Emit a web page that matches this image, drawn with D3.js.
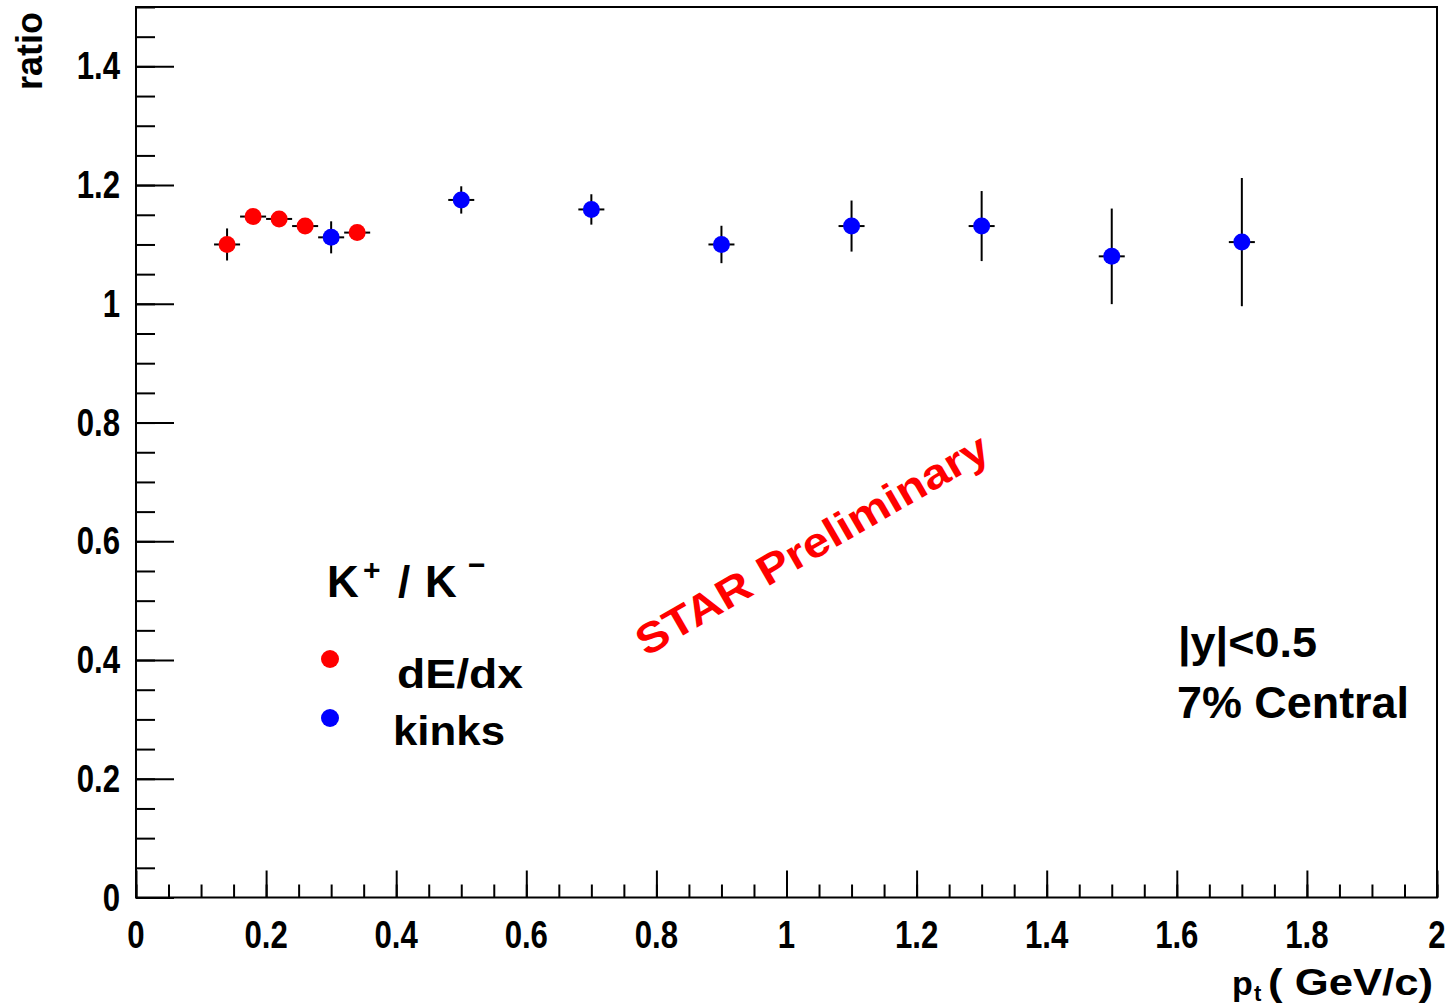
<!DOCTYPE html>
<html>
<head>
<meta charset="utf-8">
<script src="https://cdn.jsdelivr.net/npm/d3@7"></script>
<style>
  html, body { margin: 0; padding: 0; background: #fff; }
  svg { display: block; }
  text { font-family: "Liberation Sans", Arial, Helvetica, sans-serif; font-weight: bold; fill: #000; }
</style>
</head>
<body>
<svg id="chart" width="1452" height="1006"></svg>
<script>
// K+/K- ratio vs transverse momentum, two identification methods
const dedxPt   = [0.14, 0.18, 0.22, 0.26, 0.34];
const dedxRatio = [1.100, 1.147, 1.143, 1.131, 1.120];
const dedxErr   = [0.027, 0.010, 0.010, 0.010, 0.010];

const kinkPt    = [0.30, 0.50, 0.70, 0.90, 1.10, 1.30, 1.50, 1.70];
const kinkRatio = [1.112, 1.175, 1.159, 1.100, 1.131, 1.131, 1.080, 1.104];
const kinkErr   = [0.027, 0.023, 0.0256, 0.0315, 0.043, 0.059, 0.0805, 0.108];

const ptHalfWidth = 0.02;

const xTickValues = [0, 0.2, 0.4, 0.6, 0.8, 1, 1.2, 1.4, 1.6, 1.8, 2];
const yTickValues = [0, 0.2, 0.4, 0.6, 0.8, 1, 1.2, 1.4];

const svg = d3.select("#chart");
const frameLeft = 136, frameRight = 1437, frameTop = 7, frameBottom = 897.5;

const x = d3.scaleLinear().domain([0, 2]).range([frameLeft, frameRight]);
const y = d3.scaleLinear().domain([0, 1.5]).range([frameBottom, frameTop]);

const fmt = d => (Math.abs(d) < 1e-9 ? "0" : String(+d.toFixed(2)));

// minor ticks every 0.05
const xMinor = d3.range(0, 2.0001, 0.05).map(v => +v.toFixed(2));
const yMinor = d3.range(0, 1.5001, 0.05).map(v => +v.toFixed(2));

function styleTicks(g) {
  g.select(".domain").remove();
  g.selectAll("line").attr("stroke", "#000").attr("stroke-width", 2);
}

// minor ticks (inside the frame)
svg.append("g")
  .attr("transform", `translate(0,${frameBottom})`)
  .call(d3.axisTop(x).tickValues(xMinor).tickSize(13).tickFormat(""))
  .call(styleTicks);

svg.append("g")
  .attr("transform", `translate(${frameLeft},0)`)
  .call(d3.axisRight(y).tickValues(yMinor).tickSize(19).tickFormat(""))
  .call(styleTicks);

// major ticks
svg.append("g")
  .attr("transform", `translate(0,${frameBottom})`)
  .call(d3.axisTop(x).tickValues(xTickValues).tickSize(27).tickFormat(""))
  .call(styleTicks);

svg.append("g")
  .attr("transform", `translate(${frameLeft},0)`)
  .call(d3.axisRight(y).tickValues(yTickValues).tickSize(38).tickFormat(""))
  .call(styleTicks);

// tick labels
const labelSize = 38;
const xLabels = svg.append("g").selectAll("text")
  .data(xTickValues).join("text")
  .attr("x", d => x(d)).attr("y", 948)
  .attr("text-anchor", "middle")
  .attr("font-size", labelSize)
  .text(fmt);

const yLabels = svg.append("g").selectAll("text")
  .data(yTickValues).join("text")
  .attr("x", 120).attr("y", d => y(d) + 13)
  .attr("text-anchor", "end")
  .attr("font-size", labelSize)
  .text(fmt);

// narrow the tick label glyphs
[xLabels, yLabels].forEach(sel => sel.each(function () {
  const w = this.getComputedTextLength();
  d3.select(this).attr("textLength", w * 0.82).attr("lengthAdjust", "spacingAndGlyphs");
}));

// frame
svg.append("rect")
  .attr("x", frameLeft).attr("y", frameTop)
  .attr("width", frameRight - frameLeft).attr("height", frameBottom - frameTop)
  .attr("fill", "none").attr("stroke", "#000").attr("stroke-width", 2);

// axis titles
svg.append("text")
  .attr("transform", `translate(42,12) rotate(-90)`)
  .attr("text-anchor", "end")
  .attr("font-size", 36)
  .text("ratio");

const xt = svg.append("text").attr("font-size", 36);
xt.append("tspan").attr("x", 1232).attr("y", 995).attr("font-size", 34).text("p");
xt.append("tspan").attr("x", 1254).attr("y", 1001).attr("font-size", 22).text("t");
xt.append("tspan").attr("x", 1268).attr("y", 995)
  .attr("textLength", 165).attr("lengthAdjust", "spacingAndGlyphs").text("( GeV/c)");

// data series
function drawSeries(pts, vals, errs, color) {
  const data = pts.map((p, i) => ({ p, v: vals[i], e: errs[i] }));
  const g = svg.append("g");
  g.selectAll("line.v").data(data).join("line")
    .attr("class", "v")
    .attr("x1", d => x(d.p)).attr("x2", d => x(d.p))
    .attr("y1", d => y(d.v - d.e)).attr("y2", d => y(d.v + d.e))
    .attr("stroke", "#000").attr("stroke-width", 2);
  g.selectAll("line.h").data(data).join("line")
    .attr("class", "h")
    .attr("x1", d => x(d.p - ptHalfWidth)).attr("x2", d => x(d.p + ptHalfWidth))
    .attr("y1", d => y(d.v)).attr("y2", d => y(d.v))
    .attr("stroke", "#000").attr("stroke-width", 2);
  g.selectAll("circle").data(data).join("circle")
    .attr("cx", d => x(d.p)).attr("cy", d => y(d.v))
    .attr("r", 8.5).attr("fill", color);
}
drawSeries(dedxPt, dedxRatio, dedxErr, "#ff0000");
drawSeries(kinkPt, kinkRatio, kinkErr, "#0000ff");

// legend
const head = svg.append("g");
head.append("text").attr("x", 327).attr("y", 597).attr("font-size", 44).text("K");
head.append("text").attr("x", 363).attr("y", 580).attr("font-size", 30).text("+");
head.append("text").attr("x", 398).attr("y", 597).attr("font-size", 44).text("/");
head.append("text").attr("x", 425).attr("y", 597).attr("font-size", 44).text("K");
head.append("text").attr("x", 468).attr("y", 575).attr("font-size", 30).text("\u2212");

svg.append("circle").attr("cx", 330).attr("cy", 659).attr("r", 9).attr("fill", "#ff0000");
svg.append("circle").attr("cx", 330).attr("cy", 718).attr("r", 9).attr("fill", "#0000ff");
svg.append("text").attr("x", 397).attr("y", 688).attr("font-size", 40)
  .attr("textLength", 126).attr("lengthAdjust", "spacingAndGlyphs").text("dE/dx");
svg.append("text").attr("x", 393).attr("y", 745).attr("font-size", 40)
  .attr("textLength", 112).attr("lengthAdjust", "spacingAndGlyphs").text("kinks");

// selection notes
svg.append("text").attr("x", 1178).attr("y", 657).attr("font-size", 42)
  .attr("textLength", 139).attr("lengthAdjust", "spacingAndGlyphs").text("|y|<0.5");
svg.append("text").attr("x", 1177).attr("y", 718).attr("font-size", 44)
  .attr("textLength", 232).attr("lengthAdjust", "spacingAndGlyphs").text("7% Central");

// watermark
svg.append("text")
  .attr("transform", "translate(646,657) rotate(-30)")
  .attr("font-size", 42)
  .attr("textLength", 400).attr("lengthAdjust", "spacingAndGlyphs")
  .style("fill", "#ff0000")
  .text("STAR Preliminary");
</script>
</body>
</html>
